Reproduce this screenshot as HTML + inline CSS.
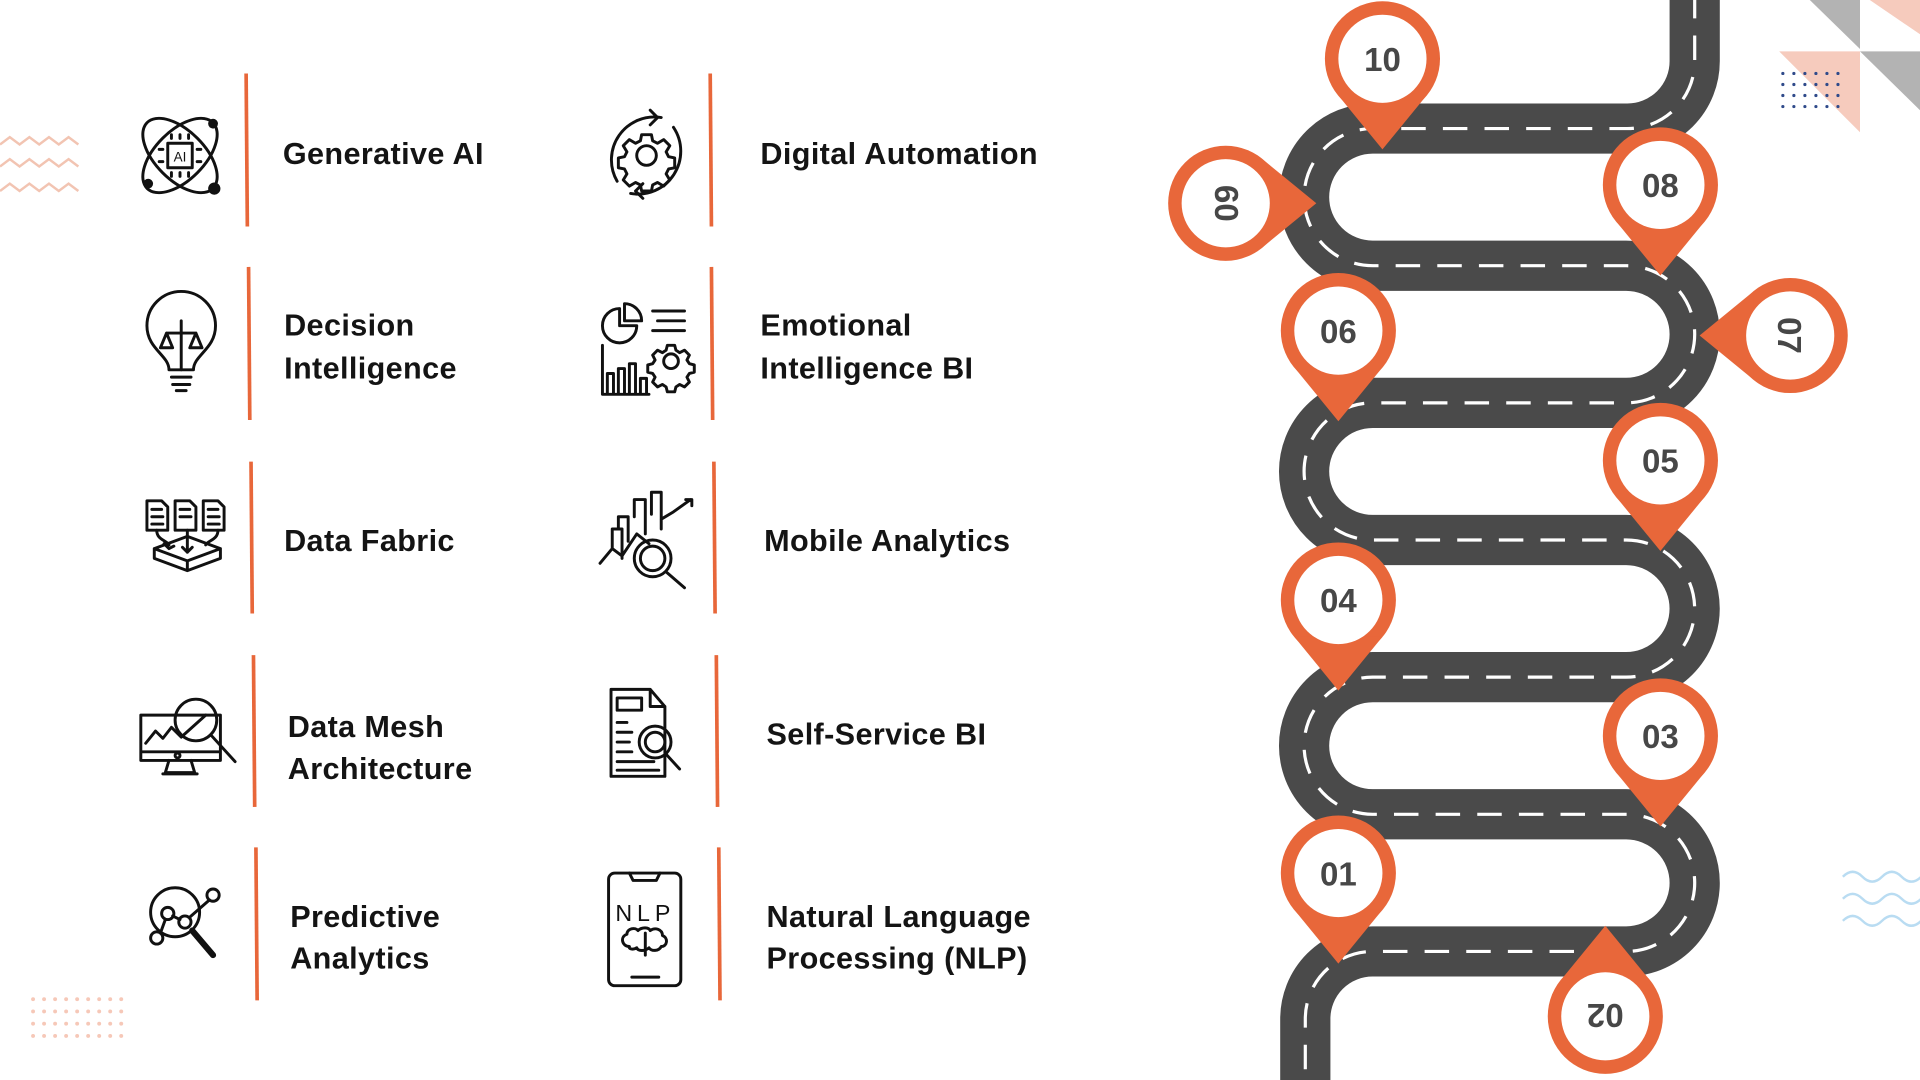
<!DOCTYPE html>
<html><head><meta charset="utf-8"><style>
html,body{margin:0;padding:0;background:#fff;width:1920px;height:1080px;overflow:hidden}
svg{display:block}
.t{font-family:"Liberation Sans",sans-serif;font-weight:bold;font-size:25px;letter-spacing:0.3px;fill:#141414}
.n{font-family:"Liberation Sans",sans-serif;font-weight:bold;font-size:27px;fill:#474747}
.ic{fill:none;stroke:#111;stroke-width:2.4;stroke-linecap:round;stroke-linejoin:round}
.ol{stroke:#e8673a;stroke-width:3}
</style></head><body>
<svg width="1920" height="1080" viewBox="0 0 1568 882" xmlns="http://www.w3.org/2000/svg">
<defs>
<g id="pin"><circle cx="0" cy="0" r="47" fill="#e8673a"/><polygon points="-36,30 36,30 0,74" fill="#e8673a"/><circle cx="0" cy="0" r="36" fill="#fff"/></g>
</defs>
<!-- decorations -->
<g fill="none" stroke="#f2c4b2" stroke-width="2">
<path d="M0 118 l8 -6 l8 6 l8 -6 l8 6 l8 -6 l8 6 l8 -6 l8 6"/>
<path d="M0 136 l8 -6 l8 6 l8 -6 l8 6 l8 -6 l8 6 l8 -6 l8 6"/>
<path d="M0 156 l8 -6 l8 6 l8 -6 l8 6 l8 -6 l8 6 l8 -6 l8 6"/>
</g>
<g fill="none" stroke="#b9dcf2" stroke-width="2">
<path d="M1505 716 q8 -8 16 0 t16 0 t16 0 t16 0"/>
<path d="M1505 734 q8 -8 16 0 t16 0 t16 0 t16 0"/>
<path d="M1505 752 q8 -8 16 0 t16 0 t16 0 t16 0"/>
</g>
<g fill="#f6c8b8">
<circle cx="27" cy="816" r="1.6"/><circle cx="36" cy="816" r="1.6"/><circle cx="45" cy="816" r="1.6"/><circle cx="54" cy="816" r="1.6"/><circle cx="63" cy="816" r="1.6"/><circle cx="72" cy="816" r="1.6"/><circle cx="81" cy="816" r="1.6"/><circle cx="90" cy="816" r="1.6"/><circle cx="99" cy="816" r="1.6"/>
<circle cx="27" cy="826" r="1.6"/><circle cx="36" cy="826" r="1.6"/><circle cx="45" cy="826" r="1.6"/><circle cx="54" cy="826" r="1.6"/><circle cx="63" cy="826" r="1.6"/><circle cx="72" cy="826" r="1.6"/><circle cx="81" cy="826" r="1.6"/><circle cx="90" cy="826" r="1.6"/><circle cx="99" cy="826" r="1.6"/>
<circle cx="27" cy="836" r="1.6"/><circle cx="36" cy="836" r="1.6"/><circle cx="45" cy="836" r="1.6"/><circle cx="54" cy="836" r="1.6"/><circle cx="63" cy="836" r="1.6"/><circle cx="72" cy="836" r="1.6"/><circle cx="81" cy="836" r="1.6"/><circle cx="90" cy="836" r="1.6"/><circle cx="99" cy="836" r="1.6"/>
<circle cx="27" cy="846" r="1.6"/><circle cx="36" cy="846" r="1.6"/><circle cx="45" cy="846" r="1.6"/><circle cx="54" cy="846" r="1.6"/><circle cx="63" cy="846" r="1.6"/><circle cx="72" cy="846" r="1.6"/><circle cx="81" cy="846" r="1.6"/><circle cx="90" cy="846" r="1.6"/><circle cx="99" cy="846" r="1.6"/>
</g>
<polygon points="1453,42 1519,42 1519,108" fill="#f6cbbd"/>
<polygon points="1478,0 1519,0 1519,40" fill="#b3b3b3"/>
<polygon points="1519,42 1568,42 1568,90" fill="#b3b3b3"/>
<polygon points="1527,0 1568,0 1568,28" fill="#f6cbbd"/>
<g fill="#2f4a8a">
<circle cx="1456" cy="60" r="1.3"/><circle cx="1465" cy="60" r="1.3"/><circle cx="1474" cy="60" r="1.3"/><circle cx="1483" cy="60" r="1.3"/><circle cx="1492" cy="60" r="1.3"/><circle cx="1501" cy="60" r="1.3"/>
<circle cx="1456" cy="69" r="1.3"/><circle cx="1465" cy="69" r="1.3"/><circle cx="1474" cy="69" r="1.3"/><circle cx="1483" cy="69" r="1.3"/><circle cx="1492" cy="69" r="1.3"/><circle cx="1501" cy="69" r="1.3"/>
<circle cx="1456" cy="78" r="1.3"/><circle cx="1465" cy="78" r="1.3"/><circle cx="1474" cy="78" r="1.3"/><circle cx="1483" cy="78" r="1.3"/><circle cx="1492" cy="78" r="1.3"/><circle cx="1501" cy="78" r="1.3"/>
<circle cx="1456" cy="87" r="1.3"/><circle cx="1465" cy="87" r="1.3"/><circle cx="1474" cy="87" r="1.3"/><circle cx="1483" cy="87" r="1.3"/><circle cx="1492" cy="87" r="1.3"/><circle cx="1501" cy="87" r="1.3"/>
</g>
<!-- road -->
<path d="M1384 -5 L1384 50 A55 55 0 0 1 1329 105 L1121 105 A56 56 0 0 0 1121 217 L1328 217 A56 56 0 0 1 1328 329 L1121 329 A56 56 0 0 0 1121 441 L1328 441 A56 56 0 0 1 1328 553 L1121 553 A56 56 0 0 0 1121 665 L1328 665 A56 56 0 0 1 1328 777 L1121 777 A55 55 0 0 0 1066 832 L1066 890" fill="none" stroke="#4a4a4a" stroke-width="41"/>
<path d="M1384 -5 L1384 50 A55 55 0 0 1 1329 105 L1121 105 A56 56 0 0 0 1121 217 L1328 217 A56 56 0 0 1 1328 329 L1121 329 A56 56 0 0 0 1121 441 L1328 441 A56 56 0 0 1 1328 553 L1121 553 A56 56 0 0 0 1121 665 L1328 665 A56 56 0 0 1 1328 777 L1121 777 A55 55 0 0 0 1066 832 L1066 890" fill="none" stroke="#fff" stroke-width="2.6" stroke-dasharray="20 14"/>
<!-- pins -->
<use href="#pin" transform="translate(1129,48)"/><text class="n" x="1129" y="58" text-anchor="middle">10</text>
<use href="#pin" transform="translate(1001,166) rotate(-90)"/><text class="n" text-anchor="middle" transform="translate(1011,166) rotate(-90)">09</text>
<use href="#pin" transform="translate(1356,151)"/><text class="n" x="1356" y="161" text-anchor="middle">08</text>
<use href="#pin" transform="translate(1462,274) rotate(90)"/><text class="n" text-anchor="middle" transform="translate(1452,274) rotate(90)">07</text>
<use href="#pin" transform="translate(1093,270)"/><text class="n" x="1093" y="280" text-anchor="middle">06</text>
<use href="#pin" transform="translate(1356,376)"/><text class="n" x="1356" y="386" text-anchor="middle">05</text>
<use href="#pin" transform="translate(1093,490)"/><text class="n" x="1093" y="500" text-anchor="middle">04</text>
<use href="#pin" transform="translate(1356,601)"/><text class="n" x="1356" y="611" text-anchor="middle">03</text>
<use href="#pin" transform="translate(1093,713)"/><text class="n" x="1093" y="723" text-anchor="middle">01</text>
<use href="#pin" transform="translate(1311,830) rotate(180)"/><text class="n" text-anchor="middle" transform="translate(1311,820) rotate(180)">02</text>
<!-- orange separators -->
<line class="ol" x1="201" y1="60" x2="202" y2="185"/><line class="ol" x1="580" y1="60" x2="581" y2="185"/>
<line class="ol" x1="203" y1="218" x2="204" y2="343"/><line class="ol" x1="581" y1="218" x2="582" y2="343"/>
<line class="ol" x1="205" y1="377" x2="206" y2="501"/><line class="ol" x1="583" y1="377" x2="584" y2="501"/>
<line class="ol" x1="207" y1="535" x2="208" y2="659"/><line class="ol" x1="585" y1="535" x2="586" y2="659"/>
<line class="ol" x1="209" y1="692" x2="210" y2="817"/><line class="ol" x1="587" y1="692" x2="588" y2="817"/>
<!-- labels -->
<text class="t" x="231" y="134">Generative AI</text>
<text class="t" x="621" y="134">Digital Automation</text>
<text class="t" x="232" y="274">Decision</text><text class="t" x="232" y="309">Intelligence</text>
<text class="t" x="621" y="274">Emotional</text><text class="t" x="621" y="309">Intelligence BI</text>
<text class="t" x="232" y="450">Data Fabric</text>
<text class="t" x="624" y="450">Mobile Analytics</text>
<text class="t" x="235" y="602">Data Mesh</text><text class="t" x="235" y="636">Architecture</text>
<text class="t" x="626" y="608">Self-Service BI</text>
<text class="t" x="237" y="757">Predictive</text><text class="t" x="237" y="791">Analytics</text>
<text class="t" x="626" y="757">Natural Language</text><text class="t" x="626" y="791">Processing (NLP)</text>
<!-- icons -->
<g class="ic">
<ellipse cx="147" cy="127" rx="38" ry="20" transform="rotate(45 147 127)"/>
<ellipse cx="147" cy="127" rx="38" ry="20" transform="rotate(-45 147 127)"/>
<rect x="137" y="117" width="20" height="20"/>
<path d="M140 110v3M147 110v3M154 110v3M140 141v3M147 141v3M154 141v3M130 122h3M130 132h3M161 122h3M161 132h3"/>
</g>
<text x="147" y="132" text-anchor="middle" font-family="Liberation Sans" font-size="11" fill="#111">AI</text>
<circle cx="174" cy="101" r="4" fill="#111"/><circle cx="175" cy="154" r="5" fill="#111"/><circle cx="121" cy="150" r="4" fill="#111"/>
<g class="ic">
<path d="M540 96 A35 35 0 0 0 504 148"/><path d="M515 158 A35 35 0 0 0 550 104"/>
<path d="M531 90 l6 6 -6 6"/><path d="M525 150 l-6 6 6 6"/>
<circle cx="528" cy="127" r="8"/>
<path d="M524 110h8l1 5 4 2 5-3 5 5-3 5 2 4 5 1v8l-5 1-2 4 3 5-5 5-5-3-4 2-1 5h-8l-1-5-4-2-5 3-5-5 3-5-2-4-5-1v-8l5-1 2-4-3-5 5-5 5 3 4-2z"/>
</g>
<g class="ic">
<path d="M138 302 C138 290 120 285 120 266 A28 28 0 0 1 176 266 C176 285 158 290 158 302 Z"/>
<path d="M140 308h16M141 314h14M144 319h8"/>
<path d="M148 262v40M136 272h24M136 272l-5 12h10zM160 272l-5 12h10z"/>
</g>
<g class="ic">
<path d="M506 252 A14 14 0 1 0 520 266 L506 266 Z"/><path d="M510 248 A14 14 0 0 1 524 262 L510 262Z"/>
<path d="M533 254h26M537 262h22M533 270h26"/>
<path d="M492 282v40h38M496 321v-16h5v16M505 321v-20h5v20M514 321v-24h5v24M523 321v-12h5v12"/>
<circle cx="548" cy="295" r="6"/><path d="M545 282h6l1 4 3 2 4-2 4 4-2 4 2 3 4 1v6l-4 1-2 3 2 4-4 4-4-2-3 2-1 4h-6l-1-4-3-2-4 2-4-4 2-4-2-3-4-1v-6l4-1 2-3-2-4 4-4 4 2 3-2z"/>
</g>
<g class="ic">
<path d="M120 409h12l5 5v19h-17zM143 409h12l5 5v19h-17zM166 409h12l5 5v19h-17z"/>
<path d="M124 416h8M124 422h9M124 428h9M147 416h8M147 422h9M170 416h8M170 422h9M170 428h9"/>
<path d="M126 448l27-10 27 10-27 10zM126 448v8l27 10 27-10v-8M153 458v8"/>
<path d="M128 433c0 8 8 8 10 12M153 433v18M178 433c0 8-8 8-10 12M149 447l4 4 4-4M134 444l4 4 4-2"/>
</g>
<g class="ic">
<path d="M490 460l10-12 8 6 12-18 10 8M500 448v-16h8v24M505 432v-10h8v20M518 422v-14h9v28M532 420v-18h8v30M540 424l10-6 14-10M560 408h5v5"/>
<circle cx="533" cy="456" r="15"/><circle cx="533" cy="456" r="10"/><path d="M544 467l15 13"/>
</g>
<g class="ic">
<path d="M115 584h65v37h-65zM115 614h65M138 621l-3 10h24l-3-10M133 632h28"/>
<circle cx="145" cy="617" r="2"/>
<path d="M119 607l8-10 6 6 7-9 8 8 20-18"/>
<circle cx="160" cy="588" r="17"/><path d="M172 600l20 22"/>
</g>
<g class="ic">
<path d="M499 563h32l12 14v57h-44zM531 563v14h12"/>
<rect x="504" y="570" width="20" height="10"/>
<path d="M504 590h8M504 598h12M504 606h10M504 614h12M504 622h30M504 629h34"/>
<circle cx="535" cy="606" r="13"/><circle cx="535" cy="606" r="8"/><path d="M544 616l11 12"/>
</g>
<g class="ic">
<circle cx="143" cy="745" r="20"/><path d="M157 760l17 20" stroke-width="5"/>
<circle cx="128" cy="766" r="5"/><circle cx="174" cy="731" r="5"/><circle cx="137" cy="746" r="5"/><circle cx="151" cy="753" r="5"/>
<path d="M131 762l4-11M141 748l6 3M155 749l16-14"/>
</g>
<g class="ic">
<rect x="497" y="713" width="59" height="92" rx="5"/><path d="M514 713l3 6h19l3-6M516 798h22"/>
<path d="M514 773c-6 0-8-8-2-10c0-5 7-6 9-3c3-3 9-3 10 0c4-3 10-1 10 4c5 2 4 9-1 9c-2 4-8 4-10 1c-3 3-9 3-10 0c-3 2-7 1-6-1zM527 762v18"/>
</g>
<text x="527" y="752" text-anchor="middle" font-family="Liberation Sans" font-size="19" fill="#111" letter-spacing="4">NLP</text>
</svg>
</body></html>
